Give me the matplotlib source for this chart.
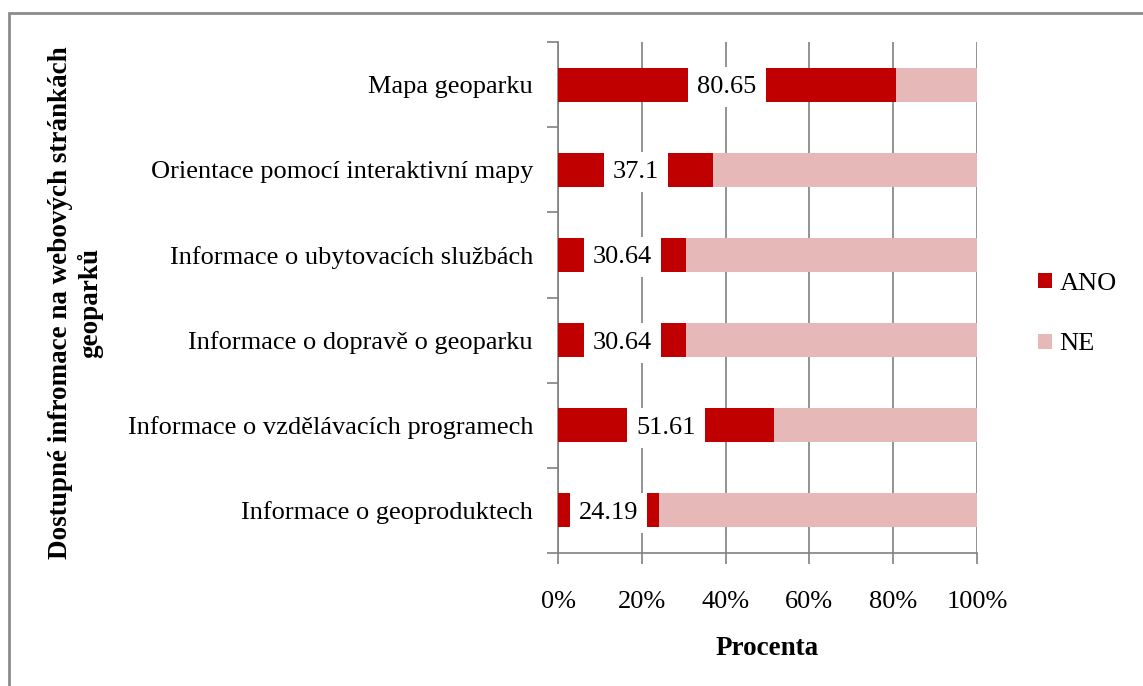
import matplotlib.pyplot as plt
from matplotlib.patches import Rectangle
from matplotlib.ticker import FuncFormatter

plt.rcParams["font.family"] = ["Liberation Serif", "DejaVu Serif"]

categories = [
    "Informace o geoproduktech",
    "Informace o vzdělávacích programech",
    "Informace o dopravě o geoparku",
    "Informace o ubytovacích službách",
    "Orientace pomocí interaktivní mapy",
    "Mapa geoparku",
]
ano = [24.19, 51.61, 30.64, 30.64, 37.1, 80.65]
ne = [100 - v for v in ano]
ano_color = "#C00000"
ne_color = "#E6B8B7"

fs = 19

fig = plt.figure(figsize=(11.43, 6.86), dpi=100)
ax = fig.add_axes([558 / 1143, 1 - 553 / 686, 419 / 1143, 511 / 686])

y = list(range(len(categories)))
ax.barh(y, ano, height=0.4, color=ano_color, label="ANO", zorder=3)
ax.barh(y, ne, left=ano, height=0.4, color=ne_color, label="NE", zorder=3)

# value labels sit in a white box in the middle of the ANO segment
for yi, v in zip(y, ano):
    ax.text(v / 2, yi, f"{v:g}", ha="center", va="center_baseline", fontsize=fs, zorder=4,
            bbox=dict(facecolor="white", edgecolor="none", pad=6.5))

ax.set_xlim(0, 100)
ax.set_ylim(-0.5, len(categories) - 0.5)
ax.set_xticks([0, 20, 40, 60, 80, 100])
ax.xaxis.set_major_formatter(FuncFormatter(lambda v, p: f"{v:.0f}%"))
ax.set_yticks([i - 0.5 for i in range(len(categories) + 1)], minor=False)
ax.set_yticklabels([])
ax.set_yticks(y, minor=True)
ax.set_yticklabels(categories, minor=True)
ax.tick_params(axis="y", which="minor", length=0, pad=18, labelsize=fs)
ax.tick_params(axis="y", which="major", length=8, color="#808080", width=1.2)
ax.tick_params(axis="x", length=8, color="#808080", width=1.2, pad=19, labelsize=fs)

ax.grid(axis="x", color="#808080", linewidth=1.2, zorder=0)
for s in ["top", "right"]:
    ax.spines[s].set_visible(False)
for s in ["left", "bottom"]:
    ax.spines[s].set_color("#808080")
    ax.spines[s].set_linewidth(1.2)

ax.set_xlabel("Procenta", fontsize=fs + 0.5, fontweight="bold", labelpad=17)
fig.text(76 / 1143, 1 - 303 / 686, "Dostupné infromace na webových stránkách\ngeoparků",
         rotation=90, ha="center", va="center", fontsize=fs + 0.5, fontweight="bold",
         linespacing=1.2)

ax.legend(loc="center left", bbox_to_anchor=(1.09, 0.467), frameon=False, fontsize=fs,
          handlelength=0.5, handleheight=0.5, labelspacing=1.45, handletextpad=0.3)

# grey frame around the chart area (runs off the right and bottom edges)
fig.patches.append(Rectangle((9 / 1143, -0.1), 1.2, 1.1 - 13 / 686, transform=fig.transFigure,
                             fill=False, edgecolor="#8C8C8C", linewidth=2))

fig.savefig("out.png", dpi=100)
